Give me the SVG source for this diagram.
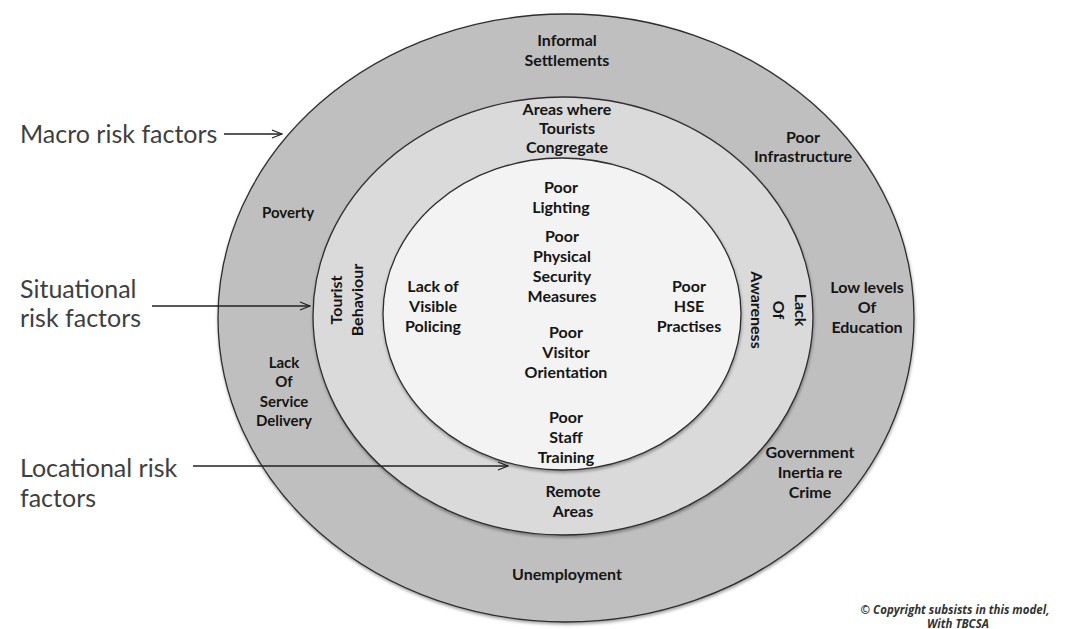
<svg xmlns="http://www.w3.org/2000/svg" width="1067" height="629" viewBox="0 0 1067 629">
  <style>
    .ring { stroke: #2e2e2e; stroke-width: 1.3; }
    .lbl { font-family: Lato, "Liberation Sans", sans-serif; font-weight: bold; font-size: 16px; fill: #151515; text-anchor: middle; }
    .side { font-family: Lato, "Open Sans", sans-serif; font-size: 25px; fill: #3f3f3f; }
    .conn { stroke: #222; stroke-width: 1.3; fill: none; marker-end: url(#arr); }
    .note { font-family: "Open Sans", "Liberation Sans", sans-serif; font-style: italic; font-weight: bold; font-size: 11.5px; fill: #333; text-anchor: middle; }
  </style>
  <defs>
    <marker id="arr" viewBox="0 0 12 10" refX="11" refY="5" markerWidth="12" markerHeight="10" markerUnits="userSpaceOnUse" orient="auto">
      <path d="M1,1 L11,5 L1,9" fill="none" stroke="#222" stroke-width="1.3"/>
    </marker>
    <filter id="shade" x="-5%" y="-5%" width="110%" height="112%">
      <feDropShadow dx="0.5" dy="2" stdDeviation="1.5" flood-color="#000" flood-opacity="0.35"/>
    </filter>
  </defs>

  <rect width="1067" height="629" fill="#ffffff"/>

  <!-- Concentric risk rings -->
  <g id="macro-ring">
    <ellipse class="ring" cx="566" cy="318" rx="348" ry="304" fill="#bfbfbf" filter="url(#shade)"/>
  </g>
  <g id="situational-ring">
    <ellipse class="ring" cx="563" cy="316" rx="250" ry="219" fill="#dadada" filter="url(#shade)"/>
  </g>
  <g id="locational-core">
    <ellipse class="ring" cx="562" cy="314" rx="179" ry="156" fill="#f3f3f3" filter="url(#shade)"/>
  </g>

  <!-- Macro factors -->
  <g id="informal-settlements">
    <text class="lbl" x="567" y="46">Informal</text>
    <text class="lbl" x="567" y="66">Settlements</text>
  </g>
  <g id="poor-infrastructure">
    <text class="lbl" x="803" y="143">Poor</text>
    <text class="lbl" x="803" y="162">Infrastructure</text>
  </g>
  <g id="poverty">
    <text class="lbl" x="288" y="218" style="font-size:15px">Poverty</text>
  </g>
  <g id="low-education">
    <text class="lbl" x="867" y="293">Low levels</text>
    <text class="lbl" x="867" y="313">Of</text>
    <text class="lbl" x="867" y="333">Education</text>
  </g>
  <g id="service-delivery">
    <text class="lbl" x="284" y="368" style="font-size:15px">Lack</text>
    <text class="lbl" x="284" y="387" style="font-size:15px">Of</text>
    <text class="lbl" x="284" y="407" style="font-size:15px">Service</text>
    <text class="lbl" x="284" y="426" style="font-size:15px">Delivery</text>
  </g>
  <g id="government-inertia">
    <text class="lbl" x="810" y="458">Government</text>
    <text class="lbl" x="810" y="478">Inertia  re</text>
    <text class="lbl" x="810" y="498">Crime</text>
  </g>
  <g id="unemployment">
    <text class="lbl" x="567" y="580">Unemployment</text>
  </g>

  <!-- Situational factors -->
  <g id="tourist-congregation">
    <text class="lbl" x="567" y="115">Areas where</text>
    <text class="lbl" x="567" y="134">Tourists</text>
    <text class="lbl" x="567" y="153">Congregate</text>
  </g>
  <g id="tourist-behaviour" transform="translate(347,300) rotate(-90)">
    <text class="lbl" x="0" y="-5">Tourist</text>
    <text class="lbl" x="0" y="16">Behaviour</text>
  </g>
  <g id="lack-of-awareness" transform="translate(778,310) rotate(90)">
    <text class="lbl" x="0" y="-17">Lack</text>
    <text class="lbl" x="0" y="5">Of</text>
    <text class="lbl" x="0" y="27">Awareness</text>
  </g>
  <g id="remote-areas">
    <text class="lbl" x="573" y="497">Remote</text>
    <text class="lbl" x="573" y="517">Areas</text>
  </g>

  <!-- Locational factors -->
  <g id="poor-lighting">
    <text class="lbl" x="561" y="193">Poor</text>
    <text class="lbl" x="561" y="213">Lighting</text>
  </g>
  <g id="physical-security">
    <text class="lbl" x="562" y="242">Poor</text>
    <text class="lbl" x="562" y="262">Physical</text>
    <text class="lbl" x="562" y="282">Security</text>
    <text class="lbl" x="562" y="302">Measures</text>
  </g>
  <g id="visible-policing">
    <text class="lbl" x="433" y="292">Lack of</text>
    <text class="lbl" x="433" y="312">Visible</text>
    <text class="lbl" x="433" y="332">Policing</text>
  </g>
  <g id="hse-practises">
    <text class="lbl" x="689" y="292">Poor</text>
    <text class="lbl" x="689" y="312">HSE</text>
    <text class="lbl" x="689" y="332">Practises</text>
  </g>
  <g id="visitor-orientation">
    <text class="lbl" x="566" y="338">Poor</text>
    <text class="lbl" x="566" y="358">Visitor</text>
    <text class="lbl" x="566" y="378">Orientation</text>
  </g>
  <g id="staff-training">
    <text class="lbl" x="566" y="423">Poor</text>
    <text class="lbl" x="566" y="443">Staff</text>
    <text class="lbl" x="566" y="463">Training</text>
  </g>

  <!-- Ring captions -->
  <g id="macro-caption">
    <text class="side" x="20" y="143">Macro risk factors</text>
  </g>
  <g id="situational-caption">
    <text class="side" x="20" y="298">Situational</text>
    <text class="side" x="20" y="327">risk factors</text>
  </g>
  <g id="locational-caption">
    <text class="side" x="20" y="477">Locational risk</text>
    <text class="side" x="20" y="507">factors</text>
  </g>

  <g id="connectors">
    <line class="conn" x1="224" y1="134" x2="282" y2="134"/>
    <line class="conn" x1="152" y1="306" x2="310" y2="306"/>
    <line class="conn" x1="193" y1="466" x2="508" y2="466"/>
  </g>

  <g id="copyright">
    <text class="note" x="955" y="614">© Copyright subsists in this model,</text>
    <text class="note" x="958" y="628">With TBCSA</text>
  </g>
</svg>
